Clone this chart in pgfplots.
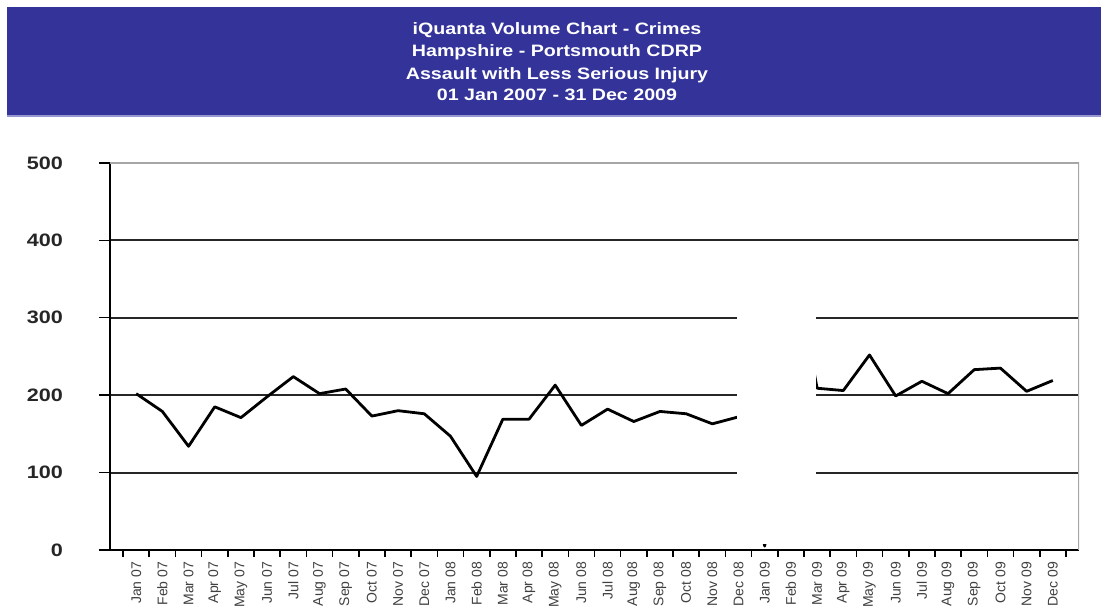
\documentclass[border=0pt]{standalone}
\usepackage{fontspec}
\setmainfont{Liberation Sans}
\newfontfamily\titlefont[FakeStretch=1.19]{Liberation Sans}
\newfontfamily\ytickfont[FakeStretch=1.2]{Liberation Sans}
\usepackage{pgfplots}
\usepackage{pgfplotstable}
\pgfplotsset{compat=1.18}
\definecolor{banner}{RGB}{51,51,153}
\definecolor{bannerline}{RGB}{150,150,210}

\pgfplotstableread{
x y
0 202
1 179
2 134
3 185
4 171
5 198
6 224
7 202
8 208
9 173
10 180
11 176
12 147
13 95
14 169
15 169
16 213
17 161
18 182
19 166
20 179
21 176
22 163
23 172
24 5
25 390
26 209
27 206
28 252
29 199
30 218
31 202
32 233
33 235
34 205
35 219
}\crimes

\begin{document}
\begin{tikzpicture}[x=1pt,y=1pt]
\fill[banner] (7,490) rectangle (1101,600);
\draw[bannerline, line width=1.5pt] (7,490.75) -- (1101,490.75);
\begin{scope}[every node/.style={anchor=base, text=white, inner sep=0pt, font=\titlefont\bfseries\fontsize{16.5}{16.5}\selectfont}]
\node at (557,572.7) {iQuanta Volume Chart - Crimes};
\node at (557,550.0) {Hampshire - Portsmouth CDRP};
\node at (557,527.3) {Assault with Less Serious Injury};
\node at (557,506.7) {01 Jan 2007 - 31 Dec 2009};
\end{scope}
\begin{axis}[
  at={(110pt,57pt)}, anchor=south west, scale only axis,
  width=969pt, height=387pt,
  xmin=-1, xmax=36, ymin=0, ymax=500,
  axis x line*=bottom, axis y line*=left,
  axis line style={black, line width=1.6pt},
  tick align=outside,
  major tick length=7pt,
  ytick={0,100,200,300,400,500},
  yticklabels={0,100,200,300,400,500},
  ytick style={/pgfplots/major tick length=11pt, black, line width=1.4pt},
  yticklabel style={font=\ytickfont\bfseries\fontsize{18}{18}\selectfont, anchor=east, inner sep=0pt, xshift=-40pt, text=black!85},
  xtick={-0.5,0.5,...,35.5},
  xticklabels={},
  xtick style={black, line width=1.6pt},
  extra x ticks={0,1,...,35},
  extra x tick labels={Jan 07,Feb 07,Mar 07,Apr 07,May 07,Jun 07,Jul 07,Aug 07,Sep 07,Oct 07,Nov 07,Dec 07,Jan 08,Feb 08,Mar 08,Apr 08,May 08,Jun 08,Jul 08,Aug 08,Sep 08,Oct 08,Nov 08,Dec 08,Jan 09,Feb 09,Mar 09,Apr 09,May 09,Jun 09,Jul 09,Aug 09,Sep 09,Oct 09,Nov 09,Dec 09},
  extra x tick style={major tick length=0pt, tick style={draw=none}, xticklabel style={yshift=-11.7pt, rotate=90, anchor=east, inner sep=0pt, font=\fontsize{14}{14}\selectfont, text=black!75}},
  ymajorgrids,
  grid style={black!85, line width=2pt},
]
\draw[black!35, line width=1.6pt] (rel axis cs:0,1) -- (rel axis cs:1,1) -- (rel axis cs:1,0);
\addplot[black, line width=2.8pt, line join=round] table[x=x,y=y]{\crimes};
\fill[white] (axis cs:22.93,7.5) rectangle (axis cs:25.96,394);
\end{axis}
\pgfresetboundingbox
\path[use as bounding box] (0,0) rectangle (1101,607);
\end{tikzpicture}
\end{document}
